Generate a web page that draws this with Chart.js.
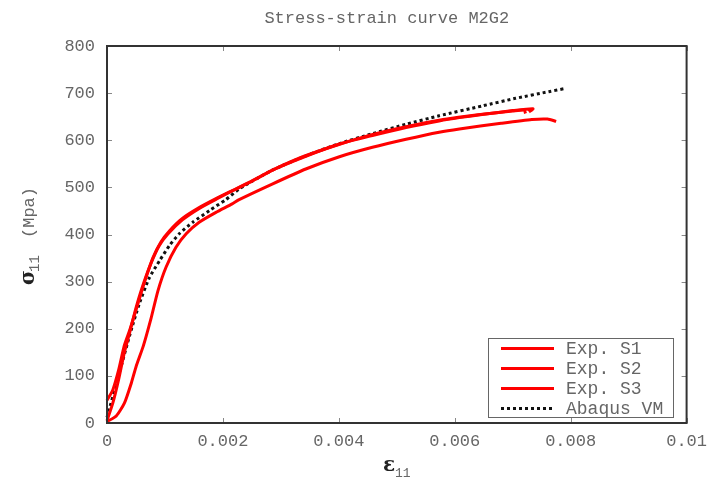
<!DOCTYPE html>
<html>
<head>
<meta charset="utf-8">
<script src="https://cdn.jsdelivr.net/npm/chart.js@4.4.1/dist/chart.umd.min.js"></script>
<style>
  html, body { margin: 0; padding: 0; background: #fff; }
  #wrap { width: 715px; height: 483px; }
</style>
</head>
<body>
<div id="wrap"><canvas id="chart" width="715" height="483"></canvas></div>
<script>
// ---- data: [strain, stress MPa] ----
const seriesNames = ["Exp. S1", "Exp. S2", "Exp. S3", "Abaqus VM"];

const expS1 = [
  [0, 48], [0.0001, 70], [0.0002, 112], [0.0003, 165], [0.0004, 200], [0.0005, 240],
  [0.00065, 300], [0.00079, 350], [0.00093, 384], [0.00108, 408], [0.0013, 434],
  [0.00159, 457], [0.00188, 476], [0.00216, 493], [0.00246, 511], [0.00286, 537],
  [0.00343, 566], [0.00401, 592], [0.00458, 610], [0.00516, 627], [0.00573, 641],
  [0.00608, 648], [0.0065, 655], [0.007, 663], [0.00735, 667], [0.00728, 660]
];
const expS2 = [
  [0, 5], [0.0001, 42], [0.0002, 92], [0.0003, 150], [0.0004, 196], [0.0005, 244],
  [0.0006, 285], [0.00075, 336], [0.0009, 376], [0.00105, 401], [0.0013, 431],
  [0.0016, 456], [0.0019, 476], [0.0022, 495], [0.0025, 513], [0.0029, 539],
  [0.0034, 566], [0.004, 591], [0.0046, 613], [0.0052, 630], [0.0058, 644],
  [0.0062, 651], [0.0066, 657], [0.007, 662], [0.0072, 664], [0.00722, 657]
];
const expS3 = [
  [0, 3], [0.00016, 15], [0.0003, 42], [0.00042, 85], [0.0005, 119], [0.00062, 161],
  [0.00068, 186], [0.00076, 222], [0.00088, 281], [0.00102, 331], [0.00119, 373],
  [0.00137, 402], [0.00159, 426], [0.00188, 447], [0.00216, 465], [0.00228, 474],
  [0.00285, 507], [0.00343, 539], [0.00401, 565], [0.00458, 585], [0.00516, 602],
  [0.00573, 617], [0.00608, 624], [0.0068, 636], [0.00733, 644], [0.0076, 645],
  [0.00775, 640]
];
const abaqusVM = [
  [0, 12], [0.0002, 100], [0.0004, 190], [0.00056, 254], [0.00073, 308],
  [0.00091, 345], [0.00108, 377], [0.00125, 402], [0.00148, 426], [0.00177, 451],
  [0.00205, 474], [0.0023, 498], [0.00286, 537], [0.00343, 567], [0.00401, 593],
  [0.00458, 614], [0.00516, 634], [0.00573, 652], [0.00648, 673], [0.00705, 689],
  [0.00762, 703], [0.00791, 710]
];

const xTickLabels = ["0", "0.002", "0.004", "0.006", "0.008", "0.01"];
const yTickLabels = ["0", "100", "200", "300", "400", "500", "600", "700", "800"];

const MONO = "'Liberation Mono', 'DejaVu Sans Mono', monospace";
const GREY = "#666";

function toPoints(arr) {
  return arr.map(p => ({ x: p[0], y: p[1] }));
}

// frame, inward ticks, title, axis labels and legend box
const decorations = {
  id: "decorations",
  afterDatasetsDraw(chart) {
    const { ctx, chartArea: a, scales } = chart;
    ctx.save();
    // inward ticks on all four sides
    ctx.strokeStyle = "#888";
    ctx.lineWidth = 1;
    const tl = 5;
    scales.x.ticks.forEach(t => {
      const px = Math.round(scales.x.getPixelForValue(t.value)) + 0.5;
      ctx.beginPath();
      ctx.moveTo(px, a.bottom); ctx.lineTo(px, a.bottom - tl);
      ctx.moveTo(px, a.top); ctx.lineTo(px, a.top + tl);
      ctx.stroke();
    });
    scales.y.ticks.forEach(t => {
      const py = Math.round(scales.y.getPixelForValue(t.value)) + 0.5;
      ctx.beginPath();
      ctx.moveTo(a.left, py); ctx.lineTo(a.left + tl, py);
      ctx.moveTo(a.right, py); ctx.lineTo(a.right - tl, py);
      ctx.stroke();
    });
    // frame
    ctx.strokeStyle = "#333";
    ctx.lineWidth = 2;
    ctx.strokeRect(a.left, a.top, a.right - a.left, a.bottom - a.top);

    // title
    ctx.fillStyle = GREY;
    ctx.font = "17px " + MONO;
    ctx.textAlign = "center";
    ctx.textBaseline = "middle";
    ctx.fillText("Stress-strain curve M2G2", (a.left + a.right) / 2 - 10, 18);

    // x axis label: epsilon_11
    ctx.fillStyle = "#222";
    ctx.font = "bold 20px 'DejaVu Serif', serif";
    ctx.textAlign = "left";
    ctx.textBaseline = "alphabetic";
    ctx.fillText("ε", 383, 471);
    ctx.font = "13px " + MONO;
    ctx.fillStyle = GREY;
    ctx.fillText("11", 395, 477);

    // y axis label: sigma_11 (Mpa), rotated
    ctx.translate(34, 237);
    ctx.rotate(-Math.PI / 2);
    ctx.textAlign = "left";
    ctx.fillStyle = "#222";
    ctx.font = "bold 20px 'DejaVu Serif', serif";
    ctx.fillText("σ", -48, 0);
    ctx.fillStyle = GREY;
    ctx.font = "14px " + MONO;
    ctx.fillText("11", -35, 5);
    ctx.font = "17px " + MONO;
    ctx.fillText("(Mpa)", -1, 0);
    ctx.restore();

    // legend
    ctx.save();
    const lx = 488, ly = 338, lw = 185, lh = 79;
    ctx.fillStyle = "#fff";
    ctx.fillRect(lx, ly, lw, lh);
    ctx.strokeStyle = "#666";
    ctx.lineWidth = 1;
    ctx.strokeRect(lx + 0.5, ly + 0.5, lw, lh);
    chart.data.datasets.forEach((ds, i) => {
      const y = ly + 10.5 + i * 20;
      ctx.strokeStyle = ds.borderColor;
      ctx.lineWidth = ds.borderWidth;
      ctx.setLineDash(ds.borderDash || []);
      ctx.beginPath();
      ctx.moveTo(501, y); ctx.lineTo(554, y);
      ctx.stroke();
      ctx.setLineDash([]);
      ctx.fillStyle = GREY;
      ctx.font = "18px " + MONO;
      ctx.textAlign = "left";
      ctx.textBaseline = "middle";
      ctx.fillText(ds.label, 566, y + 1);
    });
    ctx.restore();
  }
};

const lineStyle = (label, data, color, dash) => ({
  label: label,
  data: toPoints(data),
  showLine: true,
  borderColor: color,
  backgroundColor: color,
  borderWidth: 3,
  borderDash: dash,
  pointRadius: 0,
  tension: 0.2,
  fill: false,
  clip: 4
});

new Chart(document.getElementById("chart"), {
  type: "scatter",
  data: {
    datasets: [
      lineStyle(seriesNames[0], expS1, "#ff0000", []),
      lineStyle(seriesNames[1], expS2, "#ff0000", []),
      lineStyle(seriesNames[2], expS3, "#ff0000", []),
      lineStyle(seriesNames[3], abaqusVM, "#111", [3, 3])
    ]
  },
  options: {
    responsive: false,
    animation: false,
    layout: { padding: { left: 0, right: 28, top: 46, bottom: 0 } },
    plugins: {
      legend: { display: false },
      title: { display: false },
      tooltip: { enabled: false }
    },
    scales: {
      x: {
        type: "linear",
        min: 0,
        max: 0.01,
        afterFit: s => { s.height = 60; },
        afterBuildTicks: s => {
          s.ticks = xTickLabels.map(v => ({ value: parseFloat(v) }));
        },
        grid: { display: false, drawTicks: false },
        border: { display: false },
        ticks: {
          padding: 8,
          maxRotation: 0,
          color: GREY,
          font: { family: MONO, size: 17 },
          callback: (v, i) => xTickLabels[i]
        }
      },
      y: {
        type: "linear",
        min: 0,
        max: 800,
        afterFit: s => { s.width = 107; },
        afterBuildTicks: s => {
          s.ticks = yTickLabels.map(v => ({ value: parseFloat(v) }));
        },
        grid: { display: false, drawTicks: false },
        border: { display: false },
        ticks: {
          padding: 12,
          color: GREY,
          font: { family: MONO, size: 17 },
          callback: (v, i) => yTickLabels[i]
        }
      }
    }
  },
  plugins: [decorations]
});
</script>
</body>
</html>
